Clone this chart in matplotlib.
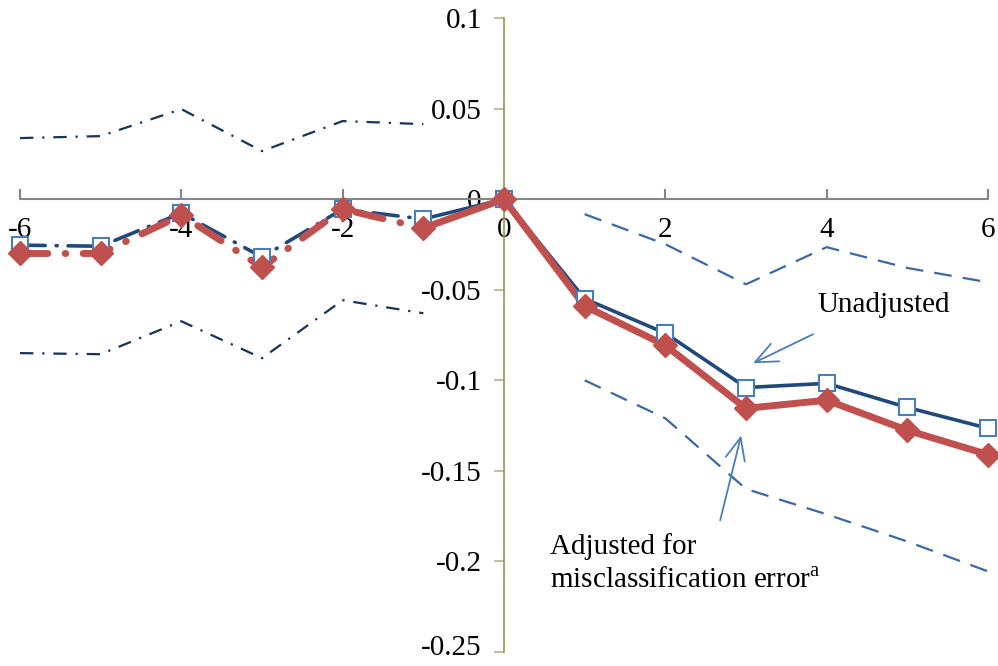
import matplotlib
matplotlib.use("Agg")
import matplotlib.pyplot as plt
import matplotlib.transforms as mtransforms

plt.rcParams['font.family'] = ['Liberation Serif', 'DejaVu Serif']
plt.rcParams['mathtext.fontset'] = 'custom'
plt.rcParams['mathtext.rm'] = 'Liberation Serif'

# event time
x = [-6, -5, -4, -3, -2, -1, 0, 1, 2, 3, 4, 5, 6]
unadjusted = [-0.0254, -0.026, -0.0077, -0.032, -0.0055, -0.011, 0.0,
              -0.055, -0.074, -0.104, -0.1017, -0.115, -0.1265]
adjusted = [-0.030, -0.030, -0.0088, -0.0376, -0.0055, -0.016, 0.0,
            -0.059, -0.0807, -0.1155, -0.111, -0.1276, -0.141]

x_pre = [-6, -5, -4, -3, -2, -1]
ci_pre_upper = [0.0337, 0.0348, 0.0497, 0.0265, 0.0431, 0.0414]
ci_pre_lower = [-0.085, -0.0856, -0.0674, -0.0878, -0.0558, -0.063]
x_post = [1, 2, 3, 4, 5, 6]
ci_post_upper = [-0.0083, -0.0249, -0.047, -0.0265, -0.038, -0.0459]
ci_post_lower = [-0.100, -0.121, -0.160, -0.174, -0.189, -0.2055]

navy = '#1F497D'
red = '#C0504D'
light = '#4A7EBB'
ci_dark = '#17325E'
ci_post = '#3A68A8'
fs = 21

fig = plt.figure(figsize=(9.98, 6.66), dpi=100)
ax = fig.add_axes([20/998, 1-652/666, 968/998, 634/666])

# confidence bands
ax.plot(x_pre, ci_pre_upper, color=ci_dark, lw=1.6, dashes=(6, 4, 1, 4))
ax.plot(x_pre, ci_pre_lower, color=ci_dark, lw=1.6, dashes=(6, 4, 1, 4))
ax.plot(x_post, ci_post_upper, color=ci_post, lw=1.6, dashes=(8, 5))
ax.plot(x_post, ci_post_lower, color=ci_post, lw=1.6, dashes=(8, 5))

# unadjusted
ax.plot(x[:6], unadjusted[:6], color=navy, lw=2.6, dashes=(7, 3, 0.3, 3),
        dash_capstyle='round')
ax.plot(x[5:], unadjusted[5:], color=navy, lw=2.6)
ax.plot(x, unadjusted, ls='none', marker='s', ms=11, mfc='white',
        mec=light, mew=1.5, zorder=3, clip_on=False)

# adjusted
ax.plot(x[:6], adjusted[:6], color=red, lw=5, dashes=(4, 2.5, 0.1, 2.5),
        dash_capstyle='round')
ax.plot(x[5:], adjusted[5:], color=red, lw=5, solid_capstyle='round')
ax.plot(x, adjusted, ls='none', marker='D', ms=12, color=red, zorder=4,
        clip_on=False)

ax.set_xlim(-6, 6)
ax.set_ylim(-0.25, 0.1)
ax.set_xticks([-6, -4, -2, 0, 2, 4, 6])
ax.set_xticklabels(['-6', '-4', '-2', '0', '2', '4', '6'])
ax.set_yticks([0.1, 0.05, 0, -0.05, -0.1, -0.15, -0.2, -0.25])
ax.set_yticklabels(['0.1', '0.05', '0', '-0.05', '-0.1', '-0.15', '-0.2', '-0.25'])

ax.spines['left'].set_position(('data', 0))
ax.spines['bottom'].set_position(('data', 0))
ax.spines['right'].set_visible(False)
ax.spines['top'].set_visible(False)
ax.spines['left'].set_color('#A09050')
ax.spines['bottom'].set_color('#868686')
ax.spines['left'].set_linewidth(1.2)
ax.spines['bottom'].set_linewidth(1.5)
ax.tick_params(axis='y', direction='out', length=7, color='#C8BE96', width=1.5,
               labelsize=fs, pad=9)
ax.tick_params(axis='x', direction='in', length=7, color='#868686', width=1.5,
               labelsize=fs, pad=13)

# nudge the bottom label so it stays inside the canvas
last = ax.get_yticklabels()[-1]
last.set_transform(last.get_transform() +
                   mtransforms.ScaledTranslation(0, 5/72, fig.dpi_scale_trans))

arrow = dict(arrowstyle='->,head_length=0.8,head_width=0.35', color=light,
             lw=1.3, shrinkA=0, shrinkB=0, mutation_scale=20)
ax.annotate('', xy=(3.087, -0.0906), xytext=(3.83, -0.0746), arrowprops=arrow)
ax.annotate('', xy=(2.94, -0.1304), xytext=(2.68, -0.1773), arrowprops=arrow)
ax.text(3.89, -0.0586, 'Unadjusted', fontsize=fs, va='center', ha='left')
ax.text(0.57, -0.1915, 'Adjusted for', fontsize=fs, va='center', ha='left')
ax.text(0.57, -0.2105, 'misclassification error$^{\\mathrm{a}}$', fontsize=fs,
        va='center', ha='left')

fig.savefig('out.png', dpi=100)
